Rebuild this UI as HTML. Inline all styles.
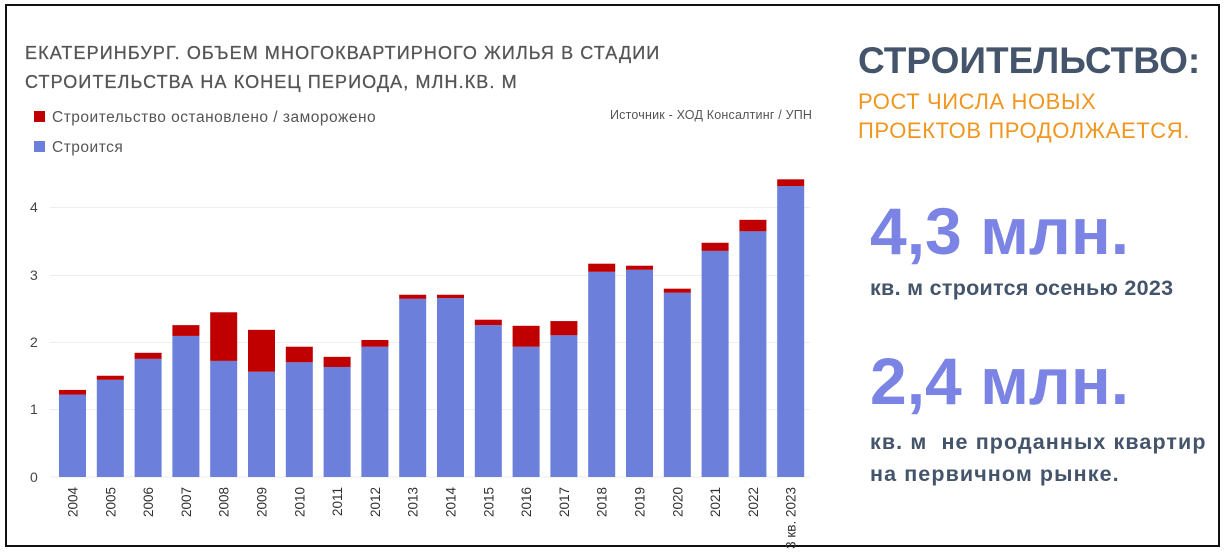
<!DOCTYPE html>
<html><head><meta charset="utf-8"><style>
html,body{margin:0;padding:0;background:#fff;}
body{width:1229px;height:554px;position:relative;overflow:hidden;font-family:"Liberation Sans","DejaVu Sans",sans-serif;}
.frame{position:absolute;left:5px;top:4px;width:1211px;height:539px;border:2px solid #111;}
.t{position:absolute;white-space:nowrap;}
</style></head><body>
<div class="frame"></div>
<div class="t" style="left:25px;top:39px;font-size:18px;color:#555;letter-spacing:1.1px;line-height:29px;-webkit-text-stroke:0.3px #555;">ЕКАТЕРИНБУРГ. ОБЪЕМ МНОГОКВАРТИРНОГО ЖИЛЬЯ В СТАДИИ<br>СТРОИТЕЛЬСТВА НА КОНЕЦ ПЕРИОДА, МЛН.КВ. М</div>
<div class="t" style="left:34px;top:109px;font-size:15.5px;color:#555;letter-spacing:0.5px;"><span style="display:inline-block;width:11px;height:11px;background:#c00000;margin-right:7px;"></span>Строительство остановлено / заморожено</div>
<div class="t" style="left:34px;top:139px;font-size:15.5px;color:#555;letter-spacing:0.5px;"><span style="display:inline-block;width:11px;height:11px;background:#6b7fdb;margin-right:7px;"></span>Строится</div>
<div class="t" style="left:610px;top:108px;font-size:12.5px;color:#555;letter-spacing:0.2px;">Источник - ХОД Консалтинг / УПН</div>
<div class="t" style="left:858px;top:40px;font-size:37px;font-weight:bold;color:#44546a;">СТРОИТЕЛЬСТВО:</div>
<div class="t" style="left:858px;top:87px;font-size:22px;color:#f0961e;line-height:29px;letter-spacing:0.6px;">РОСТ ЧИСЛА НОВЫХ<br>ПРОЕКТОВ ПРОДОЛЖАЕТСЯ.</div>
<div class="t" style="left:870px;top:193px;font-size:66px;font-weight:bold;color:#7b84e4;">4,3 млн.</div>
<div class="t" style="left:870px;top:276px;font-size:21.5px;font-weight:bold;color:#44546a;letter-spacing:0.3px;">кв. м строится осенью 2023</div>
<div class="t" style="left:870px;top:343px;font-size:66px;font-weight:bold;color:#7b84e4;">2,4 млн.</div>
<div class="t" style="left:870px;top:426px;font-size:21.5px;font-weight:bold;color:#44546a;line-height:32px;letter-spacing:1.1px;">кв. м&nbsp; не проданных квартир<br>на первичном рынке.</div>
<svg style="position:absolute;left:0;top:0" width="1229" height="554">
<g stroke="#eee" stroke-width="1">
<line x1="50" x2="810" y1="477" y2="477"/><line x1="50" x2="810" y1="409.5" y2="409.5"/><line x1="50" x2="810" y1="342.5" y2="342.5"/><line x1="50" x2="810" y1="275.5" y2="275.5"/><line x1="50" x2="810" y1="207.5" y2="207.5"/>
</g>
<g font-size="14" fill="#444" font-family="Liberation Sans, sans-serif">
<text x="30" y="482">0</text><text x="30" y="414">1</text><text x="30" y="347">2</text><text x="30" y="280">3</text><text x="30" y="212">4</text>
</g>
<g id="bars"></g>
</svg>
<script>
var d=[[1.22,1.29],[1.44,1.5],[1.75,1.84],[2.09,2.25],[1.72,2.44],[1.56,2.18],[1.7,1.93],[1.63,1.78],[1.93,2.03],[2.64,2.7],[2.65,2.7],[2.25,2.33],[1.93,2.24],[2.1,2.31],[3.04,3.16],[3.07,3.13],[2.73,2.79],[3.35,3.47],[3.64,3.81],[4.31,4.41]];
var lab=["2004","2005","2006","2007","2008","2009","2010","2011","2012","2013","2014","2015","2016","2017","2018","2019","2020","2021","2022","3 кв. 2023"];
var s="",z=477,k=67.5;
for(var i=0;i<d.length;i++){var x=59+i*37.8;
s+='<rect x="'+x+'" y="'+(z-d[i][0]*k)+'" width="27" height="'+(d[i][0]*k)+'" fill="#6b7fdb"/>';
s+='<rect x="'+x+'" y="'+(z-d[i][1]*k)+'" width="27" height="'+((d[i][1]-d[i][0])*k)+'" fill="#c00000"/>';
var cx=x+13.5+5;
s+='<text transform="translate('+cx+',487) rotate(-90)" text-anchor="end" font-size="13.5" fill="#333" font-family="Liberation Sans, sans-serif">'+lab[i]+'</text>';}
document.getElementById("bars").innerHTML=s;
</script>
</body></html>
